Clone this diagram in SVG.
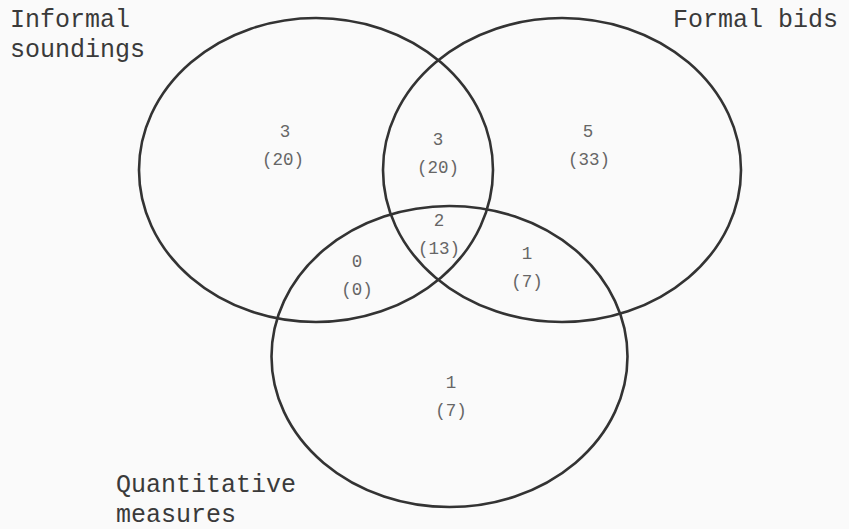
<svg xmlns="http://www.w3.org/2000/svg" width="849" height="529" viewBox="0 0 849 529">
<style>
.c{fill:none;stroke:#333;stroke-width:2.6}
.lab{font-family:"Liberation Mono","Courier New",monospace;font-size:25px;fill:#3a3a3a}
.num{font-family:"Liberation Mono","Courier New",monospace;font-size:17.5px;fill:#666;text-anchor:middle}
</style>
<rect width="849" height="529" fill="#fafafa"/>
<g id="connectors"></g>
<g id="informal">
<ellipse class="c" cx="316" cy="170" rx="177" ry="152"/>
<text class="lab" x="10" y="27">Informal</text>
<text class="lab" x="10" y="57">soundings</text>
</g>
<g id="formal">
<ellipse class="c" cx="562" cy="170" rx="179" ry="152"/>
<text class="lab" x="673" y="27">Formal bids</text>
</g>
<g id="quantitative">
<ellipse class="c" cx="449.5" cy="356.5" rx="178" ry="150.5"/>
<text class="lab" x="116" y="492">Quantitative</text>
<text class="lab" x="116" y="522">measures</text>
</g>
<g id="counts">
<text class="num" x="285" y="137">3</text><text class="num" x="283" y="165">(20)</text>
<text class="num" x="438" y="145">3</text><text class="num" x="438" y="173">(20)</text>
<text class="num" x="588" y="137">5</text><text class="num" x="589" y="165">(33)</text>
<text class="num" x="439" y="226">2</text><text class="num" x="439" y="254">(13)</text>
<text class="num" x="357" y="267">0</text><text class="num" x="357" y="295">(0)</text>
<text class="num" x="527" y="259">1</text><text class="num" x="527" y="287">(7)</text>
<text class="num" x="451" y="388">1</text><text class="num" x="451" y="416">(7)</text>
</g>
</svg>
